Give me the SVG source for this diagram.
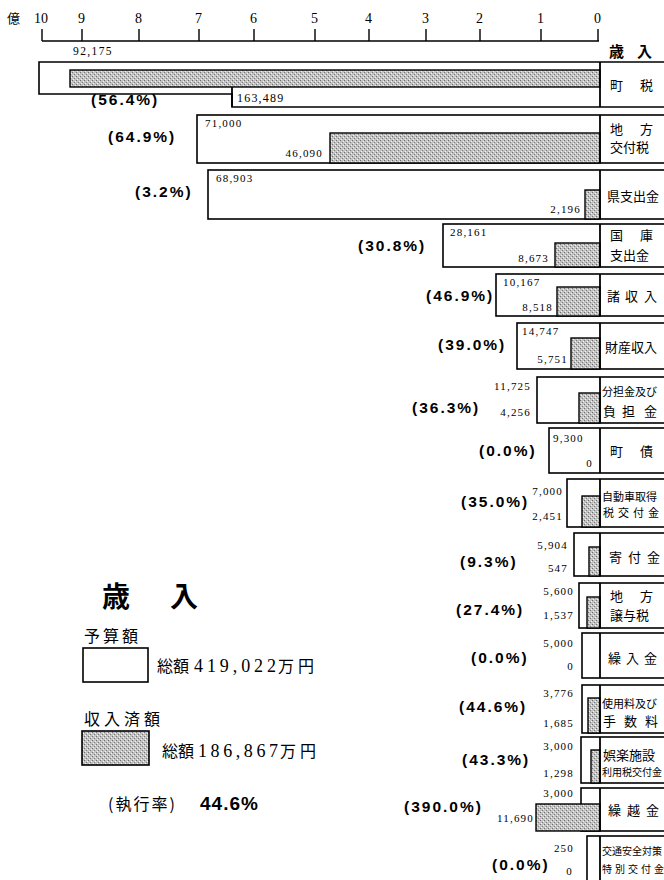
<svg xmlns="http://www.w3.org/2000/svg" width="664" height="880" viewBox="0 0 664 880">
<defs>
<pattern id="dots" width="4" height="4" patternUnits="userSpaceOnUse">
<rect width="4" height="4" fill="#c2c2c2"/>
<rect x="0" y="0" width="1" height="1" fill="#6e6e6e"/>
<rect x="2" y="2" width="1" height="1" fill="#7a7a7a"/>
<rect x="1" y="3" width="1" height="1" fill="#f4f4f4"/>
<rect x="3" y="1" width="1" height="1" fill="#f4f4f4"/>
</pattern>
<style>
.bx{fill:#fff;stroke:#000;stroke-width:1.6}
.gr{fill:url(#dots);stroke:#000;stroke-width:1.4}
.dv{stroke:#000;stroke-width:1.8;fill:none}
.ax{stroke:#000;stroke-width:1.4;fill:none}
.n{font-family:"Liberation Serif",serif;font-size:11px;letter-spacing:1.2px;fill:#000}
.ne{text-anchor:end}
.t{font-family:"Liberation Serif",serif;font-size:14px;fill:#000}
.p{font-family:"Liberation Sans",sans-serif;font-weight:bold;font-size:15.5px;letter-spacing:2px;fill:#000}
.lb{font-family:"Noto Sans CJK JP",sans-serif;font-size:13px;fill:#000}
.ls{font-size:11px}
.lx{font-size:10px}
.lg{font-family:"Noto Sans CJK JP",sans-serif;font-size:16px;fill:#000}
.lgn{font-family:"Liberation Serif",serif;font-size:18px;fill:#000}
</style>
</defs>
<rect width="664" height="880" fill="#fff"/>

<g id="axis">
<text class="lb" x="7" y="23">億</text>
<text class="t" x="34" y="23">10</text>
<text class="t" x="78" y="23">9</text>
<text class="t" x="135" y="23">8</text>
<text class="t" x="195" y="23">7</text>
<text class="t" x="250" y="23">6</text>
<text class="t" x="311" y="23">5</text>
<text class="t" x="365" y="23">4</text>
<text class="t" x="422" y="23">3</text>
<text class="t" x="476" y="23">2</text>
<text class="t" x="537" y="23">1</text>
<text class="t" x="594" y="23">0</text>
<path class="ax" d="M42,41 H599 M42,29 V41 M82,29 V41 M139,29 V41 M199,29 V41 M254,29 V41 M315,29 V41 M369,29 V41 M426,29 V41 M480,29 V41 M541,29 V41 M598,29 V41"/>
<text font-family="Noto Sans CJK JP,sans-serif" font-weight="bold" font-size="15" x="609" y="57">歳<tspan x="637">入</tspan></text>
</g>

<g id="row-chozei">
<path class="bx" d="M39,62 H672 V107 H232 V94 H39 Z"/>
<rect class="gr" x="70" y="70" width="530" height="17"/>
<line class="dv" x1="232" y1="87" x2="232" y2="107"/>
<line class="dv" x1="600" y1="62" x2="600" y2="107"/>
<text class="n" x="73" y="55" style="font-size:11.5px;letter-spacing:1.4px">92,175</text>
<text class="n" x="237" y="102" style="font-size:12px">163,489</text>
<text class="p" x="91" y="105">(56.4%)</text>
<text class="lb" x="610" y="90">町<tspan x="640">税</tspan></text>
</g>

<g id="row-chihokofuzei">
<rect class="bx" x="197" y="115" width="475" height="48"/>
<rect class="gr" x="330" y="133" width="270" height="30"/>
<line class="dv" x1="600" y1="115" x2="600" y2="163"/>
<text class="n" x="205" y="127">71,000</text>
<text class="n ne" x="323" y="157">46,090</text>
<text class="p" x="108" y="142">(64.9%)</text>
<text class="lb" x="610" y="134">地<tspan x="640">方</tspan></text>
<text class="lb" x="610" y="152">交付税</text>
</g>

<g id="row-kenshishutsukin">
<rect class="bx" x="208" y="170" width="464" height="49"/>
<rect class="gr" x="585" y="190" width="15" height="29"/>
<line class="dv" x1="600" y1="170" x2="600" y2="219"/>
<text class="n" x="216" y="182">68,903</text>
<text class="n ne" x="581" y="213">2,196</text>
<text class="p" x="135" y="197">(3.2%)</text>
<text class="lb" x="607" y="201">県支出金</text>
</g>

<g id="row-kokkoshishutsukin">
<rect class="bx" x="443" y="224" width="229" height="43"/>
<rect class="gr" x="555" y="243" width="45" height="24"/>
<line class="dv" x1="600" y1="224" x2="600" y2="267"/>
<text class="n" x="450" y="236">28,161</text>
<text class="n ne" x="549" y="262">8,673</text>
<text class="p" x="358" y="251">(30.8%)</text>
<text class="lb" x="610" y="240">国<tspan x="640">庫</tspan></text>
<text class="lb" x="610" y="260">支出金</text>
</g>

<g id="row-shoshunyu">
<rect class="bx" x="496" y="274" width="176" height="42"/>
<rect class="gr" x="557" y="287" width="43" height="29"/>
<line class="dv" x1="600" y1="274" x2="600" y2="316"/>
<text class="n" x="503" y="286">10,167</text>
<text class="n ne" x="553" y="311">8,518</text>
<text class="p" x="426" y="301">(46.9%)</text>
<text class="lb" x="607" y="301">諸<tspan x="625">収</tspan><tspan x="644">入</tspan></text>
</g>

<g id="row-zaisanshunyu">
<rect class="bx" x="517" y="323" width="155" height="46"/>
<rect class="gr" x="571" y="338" width="29" height="31"/>
<line class="dv" x1="600" y1="323" x2="600" y2="369"/>
<text class="n" x="522" y="335">14,747</text>
<text class="n ne" x="568" y="363">5,751</text>
<text class="p" x="438" y="350">(39.0%)</text>
<text class="lb" x="605" y="352">財産収入</text>
</g>

<g id="row-buntankin">
<rect class="bx" x="537" y="377" width="135" height="46"/>
<rect class="gr" x="579" y="393" width="21" height="30"/>
<line class="dv" x1="600" y1="377" x2="600" y2="423"/>
<text class="n ne" x="531" y="390">11,725</text>
<text class="n ne" x="531" y="416">4,256</text>
<text class="p" x="412" y="413">(36.3%)</text>
<text class="lb ls" x="602" y="396">分担金及び</text>
<text class="lb" x="603" y="416">負<tspan x="622">担</tspan><tspan x="644">金</tspan></text>
</g>

<g id="row-chosai">
<rect class="bx" x="549" y="428" width="123" height="45"/>
<line class="dv" x1="600" y1="428" x2="600" y2="473"/>
<text class="n" x="553" y="442">9,300</text>
<text class="n ne" x="593" y="467">0</text>
<text class="p" x="479" y="456">(0.0%)</text>
<text class="lb" x="610" y="456">町<tspan x="640">債</tspan></text>
</g>

<g id="row-jidoshashutokuzei">
<rect class="bx" x="567" y="479" width="105" height="48"/>
<rect class="gr" x="582" y="496" width="18" height="31"/>
<line class="dv" x1="600" y1="479" x2="600" y2="527"/>
<text class="n ne" x="563" y="495">7,000</text>
<text class="n ne" x="563" y="520">2,451</text>
<text class="p" x="461" y="507">(35.0%)</text>
<text class="lb ls" x="602" y="501">自動車取得</text>
<text class="lb ls" x="603" y="517">税<tspan x="618">交</tspan><tspan x="633">付</tspan><tspan x="648">金</tspan></text>
</g>

<g id="row-kifukin">
<rect class="bx" x="574" y="533" width="98" height="43"/>
<rect class="gr" x="589" y="547" width="11" height="29"/>
<line class="dv" x1="600" y1="533" x2="600" y2="576"/>
<text class="n ne" x="568" y="549">5,904</text>
<text class="n ne" x="568" y="572">547</text>
<text class="p" x="460" y="567">(9.3%)</text>
<text class="lb" x="609" y="562">寄<tspan x="628">付</tspan><tspan x="647">金</tspan></text>
</g>

<g id="row-chihojoyozei">
<rect class="bx" x="579" y="583" width="93" height="45"/>
<rect class="gr" x="587" y="597" width="13" height="31"/>
<line class="dv" x1="600" y1="583" x2="600" y2="628"/>
<text class="n ne" x="574" y="595">5,600</text>
<text class="n ne" x="574" y="619">1,537</text>
<text class="p" x="456" y="615">(27.4%)</text>
<text class="lb" x="610" y="601">地<tspan x="640">方</tspan></text>
<text class="lb" x="610" y="620">譲与税</text>
</g>

<g id="row-kurirekin">
<rect class="bx" x="582" y="633" width="90" height="45"/>
<line class="dv" x1="600" y1="633" x2="600" y2="678"/>
<text class="n ne" x="574" y="647">5,000</text>
<text class="n ne" x="574" y="670">0</text>
<text class="p" x="471" y="663">(0.0%)</text>
<text class="lb" x="608" y="663">繰<tspan x="626">入</tspan><tspan x="644">金</tspan></text>
</g>

<g id="row-shiyoryo">
<rect class="bx" x="582" y="685" width="90" height="48"/>
<rect class="gr" x="588" y="698" width="12" height="35"/>
<line class="dv" x1="600" y1="685" x2="600" y2="733"/>
<text class="n ne" x="574" y="697">3,776</text>
<text class="n ne" x="574" y="727">1,685</text>
<text class="p" x="459" y="712">(44.6%)</text>
<text class="lb ls" x="602" y="708">使用料及び</text>
<text class="lb" x="603" y="726">手<tspan x="624">数</tspan><tspan x="645">料</tspan></text>
</g>

<g id="row-gorakushisetsu">
<rect class="bx" x="581" y="737" width="91" height="46"/>
<rect class="gr" x="591" y="750" width="9" height="33"/>
<line class="dv" x1="600" y1="737" x2="600" y2="783"/>
<text class="n ne" x="574" y="750">3,000</text>
<text class="n ne" x="574" y="777">1,298</text>
<text class="p" x="462" y="765">(43.3%)</text>
<text class="lb" x="603" y="760">娯楽施設</text>
<text class="lb lx" x="602" y="776">利用税交付金</text>
</g>

<g id="row-kurikoshikin">
<rect class="bx" x="581" y="788" width="91" height="43"/>
<rect class="gr" x="536" y="804" width="64" height="27"/>
<line class="dv" x1="600" y1="788" x2="600" y2="831"/>
<text class="n ne" x="574" y="797">3,000</text>
<text class="n ne" x="534" y="822">11,690</text>
<text class="p" x="404" y="812">(390.0%)</text>
<text class="lb" x="608" y="815">繰<tspan x="627">越</tspan><tspan x="646">金</tspan></text>
</g>

<g id="row-kotsuanzen">
<rect class="bx" x="587" y="836" width="85" height="60"/>
<line class="dv" x1="600" y1="836" x2="600" y2="880"/>
<text class="n ne" x="574" y="852">250</text>
<text class="n ne" x="573" y="875">0</text>
<text class="p" x="492" y="870">(0.0%)</text>
<text class="lb lx" x="602" y="855">交通安全対策</text>
<text class="lb lx" x="602" y="873">特<tspan x="615">別</tspan><tspan x="628">交</tspan><tspan x="641">付</tspan><tspan x="654">金</tspan></text>
</g>

<g id="legend">
<text font-family="Noto Sans CJK JP,sans-serif" font-weight="bold" font-size="28" x="102" y="607">歳<tspan x="170">入</tspan></text>
<text class="lg" x="84" y="642" letter-spacing="3">予算額</text>
<rect x="83" y="648" width="65" height="34" fill="#fff" stroke="#000" stroke-width="1.6"/>
<text class="lg" x="157" y="672">総額</text>
<text class="lgn" x="194" y="672" textLength="82" lengthAdjust="spacing">419,022</text>
<text class="lg" x="278" y="672" font-size="18" letter-spacing="4">万円</text>
<text class="lg" x="84" y="725" letter-spacing="4">収入済額</text>
<rect x="82" y="731" width="67" height="34" fill="url(#dots)" stroke="#000" stroke-width="1.6"/>
<text class="lg" x="162" y="757">総額</text>
<text class="lgn" x="198" y="757" textLength="80" lengthAdjust="spacing">186,867</text>
<text class="lg" x="280" y="757" font-size="18" letter-spacing="4">万円</text>
<text class="lg" x="108" y="810" letter-spacing="2">(執行率)</text>
<text x="200" y="810" font-family="Liberation Sans,sans-serif" font-weight="bold" font-size="19" letter-spacing="1">44.6%</text>
</g>
</svg>
